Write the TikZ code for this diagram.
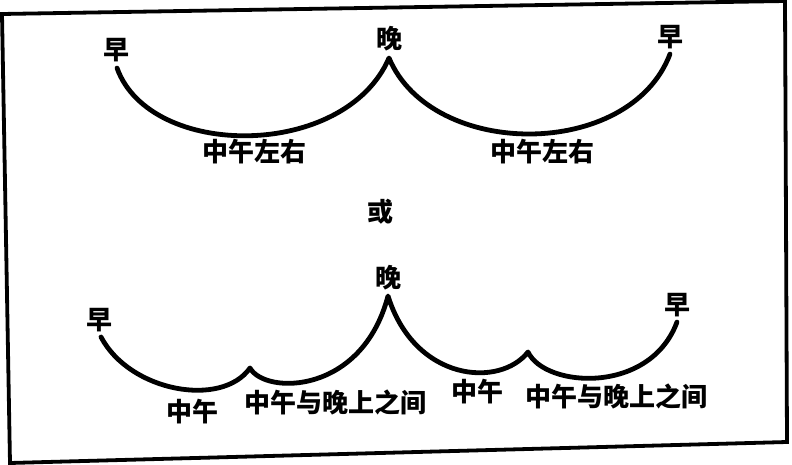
\documentclass[tikz,border=0pt]{standalone}
\usepackage{fontspec}
\newfontfamily\cjk{Noto Sans CJK SC}
\begin{document}
\begin{tikzpicture}[x=1pt,y=-1pt,
  lbl/.style={font=\cjk\bfseries\fontsize{26}{26}\selectfont, inner sep=0pt},
  curve/.style={line width=4.8pt, line cap=round, line join=round},
  frame/.style={line width=3.8pt, line join=miter}]
\useasboundingbox (0,0) rectangle (792,465);
% frame
\coordinate (tl) at (2,14);
\coordinate (tr) at (785,1);
\coordinate (br) at (787,442);
\coordinate (bl) at (10,463);
\draw[frame] (tl) -- (tr) -- (br) -- (bl) -- cycle;
% top diagram
\node[lbl] (z1) at (116,50) {早};
\node[lbl] (w1) at (389,39) {晚};
\node[lbl] (z2) at (670,37) {早};
\node[lbl] (n1) at (254,152) {中午左右};
\node[lbl] (n2) at (542,152) {中午左右};
\coordinate (a0) at (117,68);
\coordinate (a1) at (389,58);
\coordinate (a2) at (670,54);
\draw[curve] (a0) .. controls (150,160) and (345,160) .. (a1)
             .. controls (432,160) and (630,160) .. (a2);
% or
\node[lbl] (or) at (380,212) {或};
% bottom diagram
\node[lbl] (z3) at (99,320) {早};
\node[lbl] (w2) at (388,278) {晚};
\node[lbl] (z4) at (677,305) {早};
\node[lbl] (m1) at (192,412) {中午};
\node[lbl] (m2) at (335,402) {中午与晚上之间};
\node[lbl] (m3) at (477,392) {中午};
\node[lbl] (m4) at (616,396) {中午与晚上之间};
\coordinate (b0) at (101,337);
\coordinate (b1) at (250,368);
\coordinate (b2) at (388,296);
\coordinate (b3) at (528,352);
\coordinate (b4) at (677,322);
\draw[curve] (b0) .. controls (130,392) and (222,408) .. (b1)
             .. controls (265,395) and (362,395) .. (b2)
             .. controls (415,382) and (500,388) .. (b3)
             .. controls (545,388) and (650,395) .. (b4);
\end{tikzpicture}
\end{document}
